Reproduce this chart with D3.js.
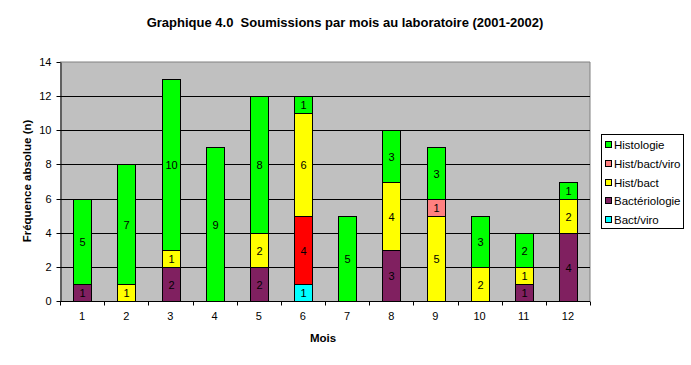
<!DOCTYPE html>
<html><head><meta charset="utf-8">
<script src="https://cdn.jsdelivr.net/npm/d3@7"></script>
<style>body{margin:0;background:#fff}svg{display:block;font-family:Arial,"Liberation Sans",sans-serif}</style>
</head><body><svg id="c" width="691" height="365"></svg>
<script>
const months = ["1","2","3","4","5","6","7","8","9","10","11","12"];
const seriesNames = ["Bact/viro","Bactériologie","Hist/bact","Hist/bact/viro","Histologie"];
const bactViro      = [0,0,0,0,0,1,0,0,0,0,0,0];
const bacteriologie = [1,0,2,0,2,4,0,3,0,0,1,4];
const histBact      = [0,1,1,0,2,6,0,4,5,2,1,2];
const histBactViro  = [0,0,0,0,0,0,0,0,1,0,0,0];
const histologie    = [5,7,10,9,8,1,5,3,3,3,2,1];
const yTicks = [0,2,4,6,8,10,12,14];
const colors = ["#00FFFF","#802060","#FFFF00","#FF8080","#00FF00"];

const svg = d3.select("#c");
const L=60,T=62,R=590,B=301;
const x = d3.scaleBand().domain(months).range([L,R]).paddingInner(0.6).paddingOuter(0.3);
const y = d3.scaleLinear().domain([0,14]).range([B,T]);

svg.append("text").attr("x",345).attr("y",27).attr("text-anchor","middle").style("white-space","pre")
  .attr("font-size",13).attr("font-weight","bold").text("Graphique 4.0  Soumissions par mois au laboratoire (2001-2002)");

svg.append("rect").attr("x",L).attr("y",T).attr("width",R-L).attr("height",B-T).attr("fill","#C0C0C0");
svg.append("path").attr("d",`M${L},${T}H${R}V${B}`).attr("fill","none").attr("stroke","#808080").attr("stroke-width",1);
svg.append("g").selectAll("line").data(yTicks.slice(1,-1)).join("line")
  .attr("x1",L).attr("x2",R).attr("y1",d=>Math.round(y(d))+0.5).attr("y2",d=>Math.round(y(d))+0.5)
  .attr("stroke","#000");

const table = months.map((m,i)=>({month:m, "Bact/viro":bactViro[i], "Bactériologie":bacteriologie[i], "Hist/bact":histBact[i], "Hist/bact/viro":histBactViro[i], "Histologie":histologie[i]}));
const stack = d3.stack().keys(seriesNames)(table);

stack.forEach((s,si)=>{
  const g = svg.append("g");
  s.forEach((d,i)=>{
    const v = d[1]-d[0];
    if(!v) return;
    const fill = (s.key==="Bactériologie" && months[i]==="6") ? "#FF0000" : colors[si];
    const x0 = Math.round(x(months[i]))+0.5, w = Math.round(x.bandwidth());
    const y1 = Math.round(y(d[1]))+0.5, y0 = Math.round(y(d[0]))+0.5;
    g.append("rect").attr("x",x0).attr("y",y1).attr("width",w).attr("height",y0-y1)
      .attr("fill",fill).attr("stroke","#000").attr("stroke-width",1);
    g.append("text").attr("x",x0+w/2).attr("y",(y0+y1)/2+4).attr("text-anchor","middle")
      .attr("font-size",11).attr("fill","#000").text(v);
  });
});

// axes
const ya = svg.append("g").attr("transform",`translate(${L+0.5},0)`)
  .call(d3.axisLeft(y).tickValues(yTicks).tickSize(4).tickSizeOuter(0).tickPadding(5));
ya.select(".domain").attr("stroke","#000");
ya.selectAll("text").attr("font-size",11).attr("font-family","Arial,'Liberation Sans',sans-serif").attr("fill","#000");
ya.selectAll(".tick line").attr("stroke","#000");
ya.selectAll(".tick").attr("transform",d=>`translate(0,${Math.round(y(d))+0.5})`);

const xa = svg.append("g").attr("transform",`translate(0,${B+0.5})`)
  .call(d3.axisBottom(x).tickSize(0).tickPadding(11));
xa.select(".domain").attr("stroke","#000").attr("d",`M${L},0H${R}`);
xa.selectAll("text").attr("font-size",11).attr("font-family","Arial,'Liberation Sans',sans-serif").attr("fill","#000");
const bounds = d3.range(13).map(k=>L + k*(R-L)/12);
xa.append("g").selectAll("line").data(bounds).join("line")
  .attr("x1",d=>Math.round(d)+0.5).attr("x2",d=>Math.round(d)+0.5).attr("y1",0).attr("y2",4).attr("stroke","#000");

svg.append("text").attr("x",323).attr("y",342).attr("text-anchor","middle")
  .attr("font-size",11.5).attr("font-weight","bold").text("Mois");
svg.append("text").attr("transform","translate(31,181) rotate(-90)").attr("text-anchor","middle")
  .attr("font-size",11.5).attr("font-weight","bold").text("Fréquence absolue (n)");

// legend
const lg = svg.append("g");
lg.append("rect").attr("x",601.5).attr("y",134.5).attr("width",82).attr("height",94).attr("fill","#fff").attr("stroke","#000");
seriesNames.slice().reverse().forEach((n,k)=>{
  const si = seriesNames.indexOf(n);
  const cy = 145 + k*18.8;
  lg.append("rect").attr("x",605.5).attr("y",Math.round(cy)-3.5).attr("width",6).attr("height",6)
    .attr("fill",colors[si]).attr("stroke","#000");
  lg.append("text").attr("x",614).attr("y",Math.round(cy)+4).attr("font-size",11.5).text(n);
});
</script></body></html>
